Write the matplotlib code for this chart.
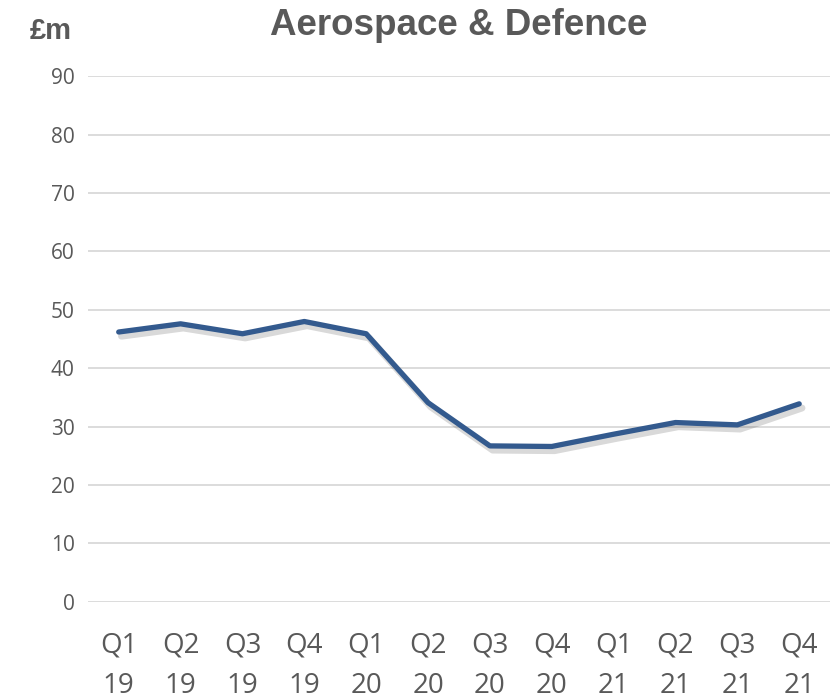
import matplotlib.pyplot as plt
import matplotlib.patheffects as pe

quarters = ["Q1", "Q2", "Q3", "Q4", "Q1", "Q2", "Q3", "Q4", "Q1", "Q2", "Q3", "Q4"]
years = ["19", "19", "19", "19", "20", "20", "20", "20", "21", "21", "21", "21"]
sales = [46.2, 47.6, 45.9, 48.0, 45.9, 34.1, 26.7, 26.6, 28.7, 30.7, 30.3, 33.9]

grey = "#595959"

fig = plt.figure(figsize=(8.36, 6.99), dpi=100)
ax = fig.add_axes([0.105, 0.139, 0.888, 0.752])

x = range(len(sales))
ax.plot(x, sales, color="#335a8e", linewidth=3.8, solid_capstyle="round",
        solid_joinstyle="round", zorder=3,
        path_effects=[pe.SimpleLineShadow(offset=(2, -3), shadow_color="#000000", alpha=0.15, linewidth=5),
                      pe.Normal()])

ax.set_xlim(-0.5, len(sales) - 0.5)
ax.set_ylim(0, 90)
ax.set_yticks(range(0, 91, 10))
ax.grid(axis="y", color="#d9d9d9", linewidth=1.3)
ax.set_axisbelow(True)
for s in ax.spines.values():
    s.set_visible(False)

ax.set_xticks(list(x))
ax.set_xticklabels([f"{q}\n{y}" for q, y in zip(quarters, years)],
                   fontfamily="Open Sans", fontsize=20, color=grey, linespacing=1.6)
ax.tick_params(axis="x", length=0, pad=21)
ax.tick_params(axis="y", length=0, pad=9.5, labelsize=15, labelcolor=grey)
for t in ax.get_yticklabels():
    t.set_fontfamily("Open Sans")

fig.text(0.549, 0.964, "Aerospace & Defence", ha="center", va="center",
         fontfamily="Liberation Sans", fontweight="bold", fontsize=26.5, color=grey)
fig.text(0.061, 0.955, "£m", ha="center", va="center",
         fontfamily="Liberation Sans", fontweight="bold", fontsize=21, color=grey)

fig.savefig("out.png", dpi=100)
